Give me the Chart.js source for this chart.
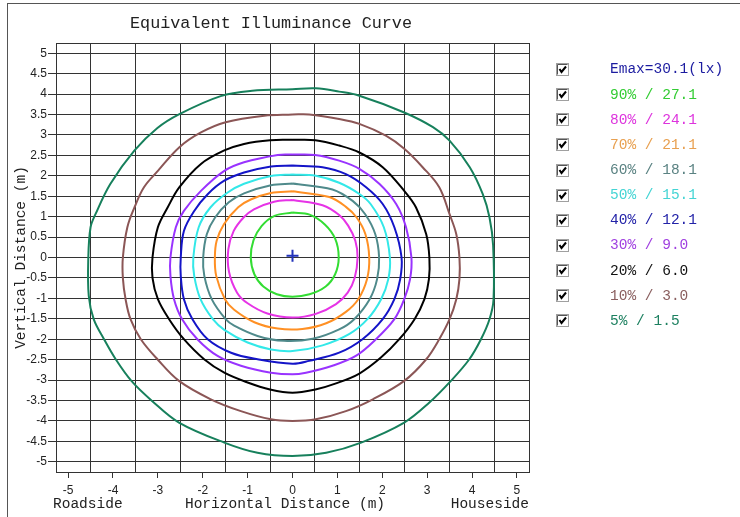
<!DOCTYPE html>
<html>
<head>
<meta charset="utf-8">
<script src="https://cdn.jsdelivr.net/npm/chart.js@4.4.0/dist/chart.umd.min.js"></script>
<style>
  html, body { margin: 0; padding: 0; background: #fff; }
  #wrap { position: relative; width: 740px; height: 517px; overflow: hidden; }
  #frame { position: absolute; left: 7px; top: 3px; right: -2px; bottom: -2px; border-left: 1px solid #555; border-top: 1px solid #555; }
  canvas#chart { position: absolute; left: 0; top: 0; }
  #legend { position: absolute; left: 556px; top: 56.9px; font: 14.5px "Liberation Mono", monospace; }
  #legend .row { height: 25.15px; display: flex; align-items: center; white-space: pre; }
  #legend .row canvas { display: block; margin-right: 41px; }
</style>
</head>
<body>
<div id="wrap">
  <div id="frame"></div>
  <canvas id="chart" width="740" height="517"></canvas>
  <div id="legend"></div>
</div>
<script>
// values
const titleText = 'Equivalent Illuminance Curve';
const xTitle = 'Horizontal Distance (m)';
const sideLabels = ['Roadside', 'Houseside'];
const emax = 30.1;
const centerPoint = [0, 0.04];
const percents = [90, 80, 70, 60, 50, 40, 30, 20, 10, 5];
const luxValues = [27.1, 24.1, 21.1, 18.1, 15.1, 12.1, 9.0, 6.0, 3.0, 1.5];
const xTicks = [-5, -4, -3, -2, -1, 0, 1, 2, 3, 4, 5];
const xGrid = [-4.5, -3.5, -2.5, -1.5, -0.5, 0.5, 1.5, 2.5, 3.5, 4.5];
const yTicks = [5, 4.5, 4, 3.5, 3, 2.5, 2, 1.5, 1, 0.5, 0, -0.5, -1, -1.5, -2, -2.5, -3, -3.5, -4, -4.5, -5];

// contour points [x, y], clockwise from the top
const c90 = [[0,1.1],[0.38,1.05],[0.72,0.81],[0.95,0.46],[1.03,0],[0.95,-0.41],[0.74,-0.71],[0.38,-0.9],[0,-0.96],
  [-0.35,-0.9],[-0.65,-0.71],[-0.85,-0.41],[-0.93,0],[-0.87,0.42],[-0.69,0.77],[-0.4,1.02],[0,1.1]];
const c80 = [[0,1.41],[0.67,1.28],[1.04,1.04],[1.24,0.78],[1.4,0.41],[1.45,0],[1.385,-0.5],[1.23,-0.86],[0.97,-1.14],
  [0.52,-1.38],[0,-1.47],[-0.56,-1.37],[-1.0,-1.12],[-1.235,-0.86],[-1.415,-0.35],[-1.43,0.2],[-1.31,0.65],[-1.09,0.98],
  [-0.86,1.18],[-0.41,1.365],[0,1.41]];
const c70 = [[0,1.62],[0.82,1.48],[1.19,1.24],[1.43,0.98],[1.625,0.57],[1.71,0],[1.66,-0.53],[1.465,-1.02],[1.19,-1.33],
  [0.75,-1.61],[0.22,-1.75],[-0.33,-1.74],[-0.85,-1.585],[-1.3,-1.28],[-1.505,-1.02],[-1.7,-0.45],[-1.73,0],[-1.69,0.41],
  [-1.525,0.82],[-1.21,1.23],[-0.93,1.42],[-0.48,1.58],[0,1.62]];
const c60 = [[0,1.81],[0.89,1.665],[1.34,1.385],[1.62,1.06],[1.845,0.57],[1.93,0],[1.885,-0.53],[1.72,-1.02],[1.375,-1.51],
  [1.04,-1.76],[0.45,-1.99],[-0.19,-2.04],[-0.78,-1.92],[-1.3,-1.67],[-1.49,-1.51],[-1.8,-1.02],[-1.965,-0.45],[-1.99,0],
  [-1.91,0.57],[-1.725,0.98],[-1.42,1.35],[-1.08,1.57],[-0.48,1.77],[0,1.81]];
const c50 = [[0,2.03],[0.52,2.0],[1.04,1.83],[1.49,1.555],[1.74,1.31],[2.035,0.74],[2.17,0],[2.135,-0.53],[1.975,-1.02],
  [1.67,-1.51],[1.27,-1.87],[0.67,-2.15],[0,-2.29],[-0.48,-2.25],[-1.0,-2.08],[-1.52,-1.77],[-1.775,-1.51],[-2.05,-1.02],
  [-2.19,-0.45],[-2.21,0],[-2.09,0.74],[-1.825,1.23],[-1.445,1.59],[-1.08,1.805],[-0.48,1.995],[0,2.03]];
const c40 = [[0,2.25],[0.67,2.21],[1.19,2.04],[1.64,1.72],[2.01,1.31],[2.27,0.74],[2.43,0],[2.4,-0.53],[2.27,-1.02],
  [2.01,-1.51],[1.56,-2.0],[1.04,-2.33],[0.37,-2.53],[0,-2.6],[-0.78,-2.49],[-1.37,-2.33],[-1.89,-2.0],[-2.23,-1.51],
  [-2.42,-1.02],[-2.49,-0.45],[-2.49,0],[-2.42,0.65],[-2.19,1.14],[-1.89,1.55],[-1.52,1.88],[-1.08,2.08],[-0.48,2.23],[0,2.25]];
const c30 = [[0,2.52],[0.5,2.51],[1.04,2.37],[1.49,2.17],[1.94,1.8],[2.31,1.31],[2.53,0.74],[2.65,0],[2.62,-0.53],
  [2.49,-1.02],[2.27,-1.51],[1.86,-2.0],[1.41,-2.41],[0.89,-2.65],[0.3,-2.82],[0,-2.86],[-0.48,-2.82],[-1.15,-2.65],
  [-1.67,-2.41],[-2.12,-2.0],[-2.46,-1.51],[-2.64,-1.02],[-2.72,-0.45],[-2.72,0],[-2.6,0.74],[-2.42,1.14],[-2.04,1.63],
  [-1.52,2.12],[-1.08,2.33],[-0.33,2.51],[0,2.52]];
const c20 = [[0,2.88],[0.51,2.87],[1.04,2.74],[1.49,2.57],[2.01,2.21],[2.49,1.63],[2.75,1.23],[2.98,0.57],[3.05,0],
  [3.04,-0.53],[2.94,-1.02],[2.72,-1.51],[2.38,-2.0],[1.97,-2.45],[1.49,-2.84],[0.97,-3.08],[0.51,-3.23],[0,-3.31],
  [-0.5,-3.23],[-1.0,-3.06],[-1.52,-2.82],[-1.97,-2.49],[-2.42,-2.0],[-2.75,-1.51],[-3.0,-1.02],[-3.12,-0.5],[-3.12,0],
  [-3.0,0.74],[-2.78,1.23],[-2.52,1.72],[-2.04,2.29],[-1.52,2.62],[-1.08,2.78],[-0.5,2.87],[0,2.88]];
const c10 = [[0,3.5],[0.37,3.5],[1.04,3.39],[1.49,3.27],[2.08,2.98],[2.49,2.66],[2.9,2.21],[3.27,1.72],[3.5,1.06],
  [3.65,0.57],[3.72,0],[3.72,-0.53],[3.65,-1.02],[3.5,-1.51],[3.27,-2.0],[2.98,-2.49],[2.49,-3.02],[1.79,-3.47],
  [1.19,-3.76],[0.52,-3.96],[0,-4.0],[-0.48,-3.96],[-1.15,-3.76],[-1.82,-3.47],[-2.53,-3.02],[-3.01,-2.49],[-3.38,-2.0],
  [-3.61,-1.51],[-3.72,-1.02],[-3.78,-0.5],[-3.78,0],[-3.68,0.74],[-3.52,1.23],[-3.31,1.72],[-3.0,2.12],[-2.52,2.7],
  [-2.04,3.06],[-1.49,3.31],[-0.63,3.47],[0,3.5]];
const c5 = [[0,4.12],[0.52,4.14],[1.04,4.06],[1.49,3.96],[2.49,3.55],[3.13,3.19],[3.5,2.86],[3.95,2.21],[4.24,1.55],
  [4.39,0.98],[4.47,0.3],[4.48,-1.02],[4.39,-1.51],[4.2,-2.0],[3.94,-2.49],[3.53,-3.02],[3.05,-3.55],[2.49,-4.04],
  [1.53,-4.53],[0.75,-4.78],[0,-4.86],[-0.78,-4.78],[-1.52,-4.53],[-2.53,-4.04],[-3.13,-3.51],[-3.59,-3.02],[-3.94,-2.49],
  [-4.2,-2.0],[-4.43,-1.51],[-4.54,-0.94],[-4.55,0],[-4.5,0.74],[-4.39,1.06],[-4.06,1.8],[-3.52,2.62],[-3.01,3.17],
  [-2.52,3.51],[-1.6,3.95],[-0.9,4.08],[0,4.12]];
const contours = [c90, c80, c70, c60, c50, c40, c30, c20, c10, c5];

// styles
const lineColors = ['#33dd33', '#e633e6', '#ff9024', '#4f8a8b', '#33e8e8', '#1414c8', '#9933ff', '#000000', '#8b5656', '#17805c'];
const textColors = ['#33cc33', '#dd33dd', '#e8a050', '#5a8282', '#44d4d4', '#2222a8', '#a040e0', '#111111', '#8a5f5f', '#1d8060'];
const markerColor = '#2233bb';
const emaxColor = '#1c1ca0';
const gridColor = '#333';
const inkColor = '#222';
const monoFont = 'Liberation Mono';
const tickFont = { family: 'Liberation Sans', size: 12 };
const xLimit = 5.27;
const yLimit = 5.25;

// classic checkbox for the legend rows
function makeCheckbox() {
  const c = document.createElement('canvas');
  c.width = 13;
  c.height = 13;
  const g = c.getContext('2d');
  g.fillStyle = '#fff';
  g.fillRect(0, 0, 13, 13);
  g.strokeStyle = '#a0a0a0';
  g.lineWidth = 1;
  g.strokeRect(0.5, 0.5, 12, 12);
  g.strokeStyle = '#555';
  g.beginPath(); g.moveTo(1.5, 11.5); g.lineTo(1.5, 1.5); g.lineTo(11.5, 1.5); g.stroke();
  g.strokeStyle = '#000';
  g.lineWidth = 2;
  g.beginPath(); g.moveTo(3.5, 6); g.lineTo(5.5, 9); g.lineTo(10, 3.5); g.stroke();
  return c;
}

const datasets = [{
  label: 'Emax=' + emax + '(lx)',
  data: [{ x: centerPoint[0], y: centerPoint[1] }],
  showLine: false,
  pointStyle: 'cross',
  pointRadius: 6,
  pointBorderWidth: 2,
  pointBorderColor: markerColor,
  borderColor: markerColor
}].concat(contours.map((pts, i) => ({
  label: percents[i] + '% / ' + luxValues[i].toFixed(1),
  data: pts.map(p => ({ x: p[0], y: p[1] })),
  showLine: true,
  borderColor: lineColors[i],
  borderWidth: 2,
  pointRadius: 0,
  tension: 0.36,
  fill: false
})));

// title, x caption and the two side captions under the x axis
const textPlugin = {
  id: 'extraTexts',
  afterDraw(chart) {
    const { ctx, chartArea } = chart;
    ctx.save();
    ctx.fillStyle = inkColor;
    ctx.textBaseline = 'middle';
    ctx.font = '16.8px "' + monoFont + '"';
    ctx.textAlign = 'center';
    ctx.fillText(titleText, 271, 24);
    ctx.font = '14.5px "' + monoFont + '"';
    ctx.fillText(xTitle, 285, 504);
    ctx.textAlign = 'left';
    ctx.fillText(sideLabels[0], chartArea.left - 3, 504);
    ctx.textAlign = 'right';
    ctx.fillText(sideLabels[1], chartArea.right, 504);
    ctx.restore();
  }
};

// legend built from the datasets, one checkbox row each
const htmlLegend = {
  id: 'htmlLegend',
  afterUpdate(chart) {
    const box = document.getElementById('legend');
    box.innerHTML = '';
    chart.data.datasets.forEach((ds, i) => {
      const row = document.createElement('div');
      row.className = 'row';
      row.appendChild(makeCheckbox());
      const label = document.createElement('span');
      label.textContent = ds.label;
      label.style.color = i === 0 ? emaxColor : textColors[i - 1];
      row.appendChild(label);
      box.appendChild(row);
    });
  }
};

new Chart(document.getElementById('chart'), {
  type: 'scatter',
  data: { datasets: datasets },
  plugins: [textPlugin, htmlLegend],
  options: {
    responsive: false,
    animation: false,
    devicePixelRatio: 1,
    layout: { padding: { left: 10, top: 43, right: 210, bottom: 0 } },
    plugins: {
      tooltip: { enabled: false },
      legend: { display: false }
    },
    scales: {
      x: {
        type: 'linear',
        position: 'bottom',
        min: -xLimit,
        max: xLimit,
        afterBuildTicks: ax => { ax.ticks = xTicks.map(v => ({ value: v })); },
        afterFit: ax => { ax.height = 45; },
        grid: { drawOnChartArea: false, tickLength: 6, color: gridColor },
        border: { color: gridColor },
        ticks: { color: inkColor, font: tickFont, padding: 5, autoSkip: false, maxRotation: 0, callback: v => String(v) }
      },
      x2: {
        type: 'linear',
        position: 'top',
        min: -xLimit,
        max: xLimit,
        afterBuildTicks: ax => { ax.ticks = xGrid.map(v => ({ value: v })); },
        grid: { color: gridColor, drawTicks: false },
        border: { color: gridColor },
        ticks: { display: false }
      },
      y: {
        type: 'linear',
        position: 'left',
        min: -yLimit,
        max: yLimit,
        afterBuildTicks: ax => { ax.ticks = yTicks.map(v => ({ value: v })); },
        afterFit: ax => { ax.width = 46; },
        grid: { color: gridColor, tickLength: 8 },
        border: { color: gridColor },
        ticks: { color: inkColor, font: tickFont, padding: 1, autoSkip: false, callback: v => String(v) },
        title: { display: true, text: 'Vertical Distance (m)', color: inkColor, font: { family: monoFont, size: 14.5 }, padding: { top: 2.3, bottom: 0 } }
      },
      yr: {
        type: 'linear',
        position: 'right',
        min: -yLimit,
        max: yLimit,
        afterFit: ax => { ax.width = 1; },
        grid: { display: false },
        border: { color: gridColor },
        ticks: { display: false }
      }
    }
  }
});
</script>
</body>
</html>
